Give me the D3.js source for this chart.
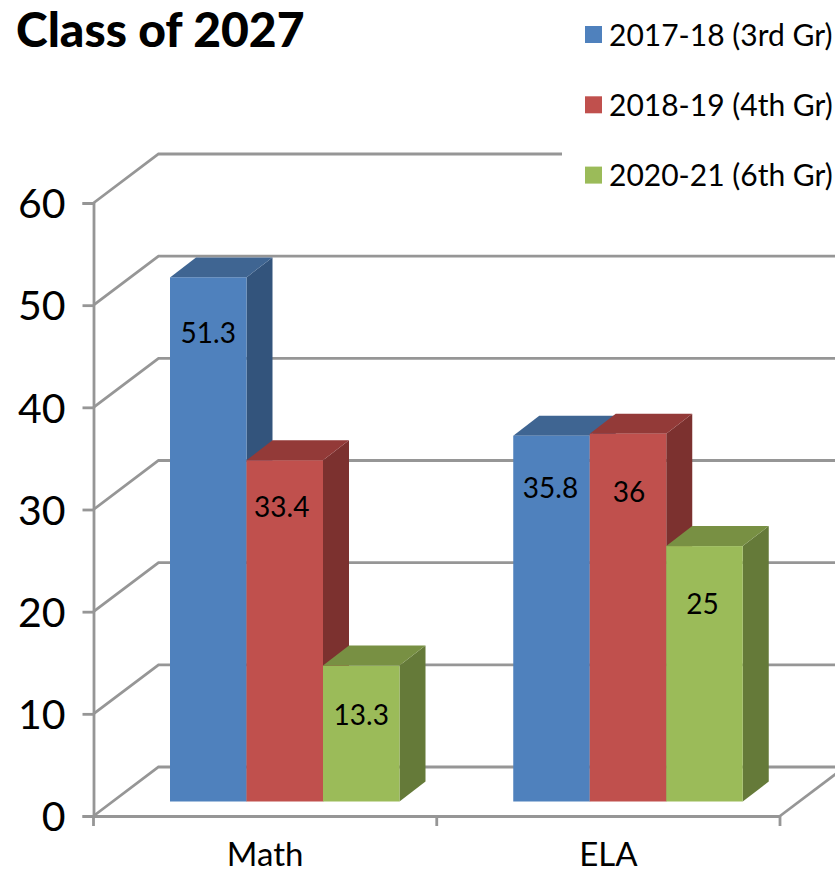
<!DOCTYPE html>
<html>
<head>
    <meta charset="utf-8">
    <script src="https://cdn.jsdelivr.net/npm/d3@7"></script>
    <style>
        body { margin: 0; background: #fff; }
        svg { display: block; font-family: Lato, "Noto Sans", sans-serif; }
        .grid { fill: none; stroke: #969696; stroke-width: 2.8; }
        .axis path, .axis line { stroke: #969696; stroke-width: 2.8; }
        .axis text { fill: #000; font-family: Lato, "Noto Sans", sans-serif; }
    </style>
</head>
<body>
    <script>
        var categories = ["Math", "ELA"];
        var seriesNames = ["2017-18 (3rd Gr)", "2018-19 (4th Gr)", "2020-21 (6th Gr)"];
        var values2017 = [51.3, 35.8];
        var values2018 = [33.4, 36];
        var values2020 = [13.3, 25];
        var yTicks = [0, 10, 20, 30, 40, 50, 60];

        var frontColors = ["#4f81bd", "#c0504d", "#9bbb59"];
        var topColors = ["#3f6592", "#933a38", "#789043"];
        var sideColors = ["#33547c", "#7c312f", "#657a39"];

        // label nudges, dx/dy from the bar's top centre
        var labelNudge = [
            [[0, 56], [-1, 52]],
            [[-3, 47], [1, 58]],
            [[0, 49], [-2, 58]]
        ];

        var seriesValues = [values2017, values2018, values2020];

        var width = 835, height = 874;
        var wallX = 65, wallY = 49;       // depth of the side wall
        var barInsetX = 76.5, barInsetY = 14.5;
        var barDepthX = 26, barDepthY = 20;

        var svg = d3.select("body").append("svg")
            .attr("width", width)
            .attr("height", height);

        var x = d3.scaleBand().domain(categories).range([93.5, 780]);
        var y = d3.scaleLinear().domain([0, 60]).range([816, 203]);
        var xSeries = d3.scaleBand().domain(d3.range(3)).range([0, 229.5]);

        // back wall and floor
        var grid = svg.append("g");
        yTicks.forEach(function (t) {
            grid.append("path").attr("class", "grid")
                .attr("d", d3.line()([
                    [x.range()[0], y(t)],
                    [x.range()[0] + wallX, y(t) - wallY],
                    [t === 60 ? 562 : width, y(t) - wallY]
                ]));
        });
        grid.append("path").attr("class", "grid")
            .attr("d", d3.line()([[x.range()[1], y(0)], [x.range()[1] + wallX, y(0) - wallY]]));

        var axisLeft = d3.axisLeft(y).tickValues(yTicks).tickSize(11).tickPadding(17);
        svg.append("g").attr("class", "axis")
            .attr("transform", "translate(" + x.range()[0] + ",0)")
            .call(axisLeft)
            .call(function (g) { g.selectAll("text").attr("font-size", 41).attr("dy", "0.36em"); });

        var axisBottom = d3.axisBottom(x).tickSize(0).tickPadding(27);
        var xAxis = svg.append("g").attr("class", "axis")
            .attr("transform", "translate(0," + y(0) + ")")
            .call(axisBottom);
        xAxis.selectAll("text").attr("font-size", 33).attr("dy", "0.71em");
        xAxis.selectAll(".edge").data([0, 1, 2]).enter().append("line")
            .attr("x1", function (d) { return x.range()[0] + d * x.bandwidth(); })
            .attr("x2", function (d) { return x.range()[0] + d * x.bandwidth(); })
            .attr("y1", 0).attr("y2", 10);

        // bars, drawn left to right so each one covers the side of the last
        function pts(a) { return a.map(function (p) { return p.join(","); }).join(" "); }

        categories.forEach(function (cat, c) {
            seriesValues.forEach(function (vals, s) {
                var v = vals[c];
                var x0 = x(cat) + barInsetX + xSeries(s);
                var x1 = x0 + xSeries.bandwidth();
                var yb = y(0) - barInsetY;
                var yt = y(v) - barInsetY;
                var g = svg.append("g");
                g.append("polygon").attr("fill", sideColors[s])
                    .attr("points", pts([[x1, yt], [x1 + barDepthX, yt - barDepthY], [x1 + barDepthX, yb - barDepthY], [x1, yb]]));
                g.append("polygon").attr("fill", topColors[s])
                    .attr("points", pts([[x0, yt], [x0 + barDepthX, yt - barDepthY], [x1 + barDepthX, yt - barDepthY], [x1, yt]]));
                g.append("rect").attr("fill", frontColors[s])
                    .attr("x", x0).attr("y", yt)
                    .attr("width", x1 - x0).attr("height", yb - yt);
            });
        });

        // value labels on top of all the bars
        categories.forEach(function (cat, c) {
            seriesValues.forEach(function (vals, s) {
                var v = vals[c];
                svg.append("text")
                    .attr("x", x(cat) + barInsetX + xSeries(s) + xSeries.bandwidth() / 2 + labelNudge[s][c][0])
                    .attr("y", y(v) - barInsetY + labelNudge[s][c][1])
                    .attr("dy", "0.36em")
                    .attr("text-anchor", "middle")
                    .attr("font-size", 28)
                    .text(v);
            });
        });

        svg.append("text")
            .attr("x", 16).attr("y", 47)
            .attr("font-size", 48).attr("font-weight", 900)
            .text("Class of 2027");

        var legend = svg.append("g");
        seriesNames.forEach(function (name, i) {
            var ly = 35 + i * 70.3;
            legend.append("rect").attr("x", 585).attr("y", ly - 9)
                .attr("width", 17).attr("height", 17).attr("fill", frontColors[i]);
            legend.append("text").attr("x", 609).attr("y", ly).attr("dy", "0.36em")
                .attr("font-size", 30).text(name);
        });
    </script>
</body>
</html>
